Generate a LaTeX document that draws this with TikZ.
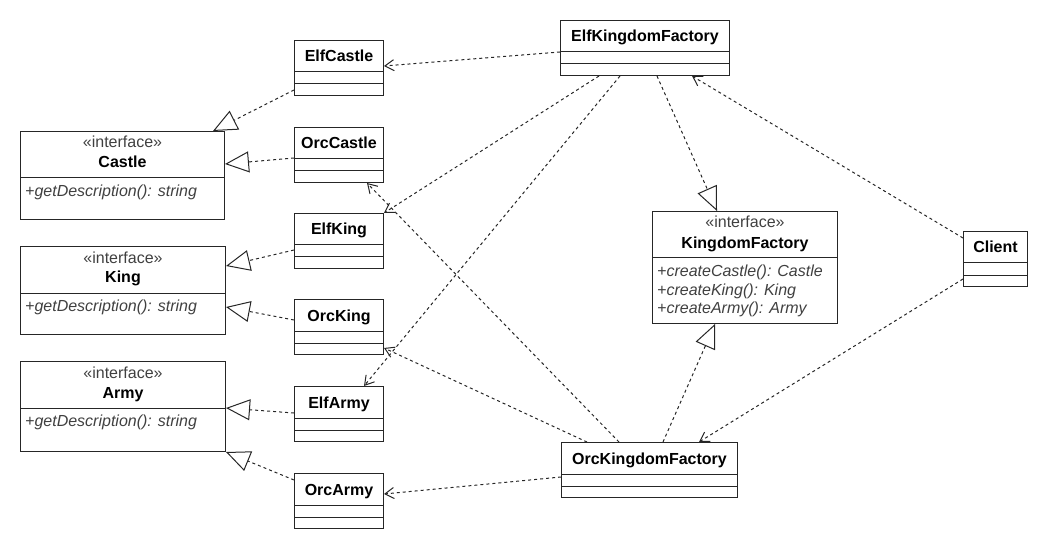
\documentclass[tikz,border=0pt]{standalone}
\usepackage{fontspec}
\setmainfont{Liberation Sans}
\usetikzlibrary{
    positioning,
    arrows.meta,
    calc
}

\tikzset{
    classbox/.style={draw=black!85, line width=1pt, anchor=north west, inner sep=0pt, minimum height=55pt},
    classline/.style={draw=black!85, line width=1pt},
    classtitle/.style={anchor=base, inner sep=0pt, font=\fontsize{16}{19}\selectfont\bfseries},
    stereo/.style={anchor=base, inner sep=0pt, text=black!75, font=\fontsize{16}{19}\selectfont},
    method/.style={anchor=north west, inner sep=0pt, align=left, text=black!75, font=\fontsize{16}{18.5}\selectfont\itshape},
    realize/.style={draw=black!85, line width=1pt, dash pattern=on 3pt off 3pt, -{Triangle[open, length=24pt, width=21pt]}},
    depend/.style={draw=black!85, line width=1pt, dash pattern=on 3pt off 3pt, -{Straight Barb[length=9pt, width=11pt]}}
}

% concrete class: name, top left, width, title
\newcommand{\umlclass}[4]{%
    \node[classbox, minimum width=#3] (#1) at (#2) {};
    \node[classtitle] at ($(#1.north)+(0,22)$) {#4};
    \draw[classline] ($(#1.north west)+(0,32)$) -- ($(#1.north east)+(0,32)$);
    \draw[classline] ($(#1.north west)+(0,44)$) -- ($(#1.north east)+(0,44)$);
}

% interface: name, top left, width, height, title, methods
\newcommand{\umliface}[6]{%
    \node[classbox, minimum width=#3, minimum height=#4] (#1) at (#2) {};
    \node[stereo] at ($(#1.north)+(0,17)$) {«interface»};
    \node[classtitle] at ($(#1.north)+(0,37)$) {#5};
    \draw[classline] ($(#1.north west)+(0,47)$) -- ($(#1.north east)+(0,47)$);
    \node[method] at ($(#1.north west)+(5,54)$) {#6};
}

\begin{document}
\begin{tikzpicture}[x=1pt, y=-1pt]
            \useasboundingbox (0,0) rectangle (1039,548);

            % Interfaces
            \umliface{Castle}{20,131}{204}{88}{Castle}{+getDescription(): string}
            \umliface{King}{20,246}{205}{88}{King}{+getDescription(): string}
            \umliface{Army}{20,361}{205}{90}{Army}{+getDescription(): string}
            \umliface{KingdomFactory}{652,211}{185}{112}{KingdomFactory}{+createCastle(): Castle\\+createKing(): King\\+createArmy(): Army}

            % Products
            \umlclass{ElfCastle}{294,40}{89}{ElfCastle}
            \umlclass{OrcCastle}{294,127}{89}{OrcCastle}
            \umlclass{ElfKing}{294,213}{89}{ElfKing}
            \umlclass{OrcKing}{294,299}{89}{OrcKing}
            \umlclass{ElfArmy}{294,386}{89}{ElfArmy}
            \umlclass{OrcArmy}{294,473}{89}{OrcArmy}

            % Factories and client
            \umlclass{ElfFactory}{560,20}{169}{ElfKingdomFactory}
            \umlclass{OrcFactory}{561,442}{176}{OrcKingdomFactory}
            \umlclass{Client}{963,231}{64}{Client}

            % Realizations
            \draw[realize] ($(ElfCastle.north west)+(0,50)$) -- ($(Castle.north west)+(193,0)$);
            \draw[realize] ($(OrcCastle.north west)+(0,31)$) -- ($(Castle.north east)+(0,33)$);
            \draw[realize] ($(ElfKing.north west)+(0,37)$) -- ($(King.north east)+(0,20)$);
            \draw[realize] ($(OrcKing.north west)+(0,21)$) -- ($(King.north east)+(0,61)$);
            \draw[realize] ($(ElfArmy.north west)+(0,27)$) -- ($(Army.north east)+(0,47)$);
            \draw[realize] ($(OrcArmy.north west)+(0,7)$) -- (Army.south east);
            \draw[realize] ($(ElfFactory.south west)+(97,0)$) -- ($(KingdomFactory.north west)+(65,0)$);
            \draw[realize] ($(OrcFactory.north west)+(102,0)$) -- ($(KingdomFactory.south west)+(63,0)$);

            % Dependencies
            \draw[depend] ($(ElfFactory.north west)+(0,32)$) -- ($(ElfCastle.north east)+(0,26)$);
            \draw[depend] ($(ElfFactory.south west)+(39,0)$) -- (ElfKing.north east);
            \draw[depend] ($(ElfFactory.south west)+(60,0)$) -- ($(ElfArmy.north west)+(70,0)$);
            \draw[depend] ($(OrcFactory.north west)+(58,0)$) -- ($(OrcCastle.south west)+(73,0)$);
            \draw[depend] ($(OrcFactory.north west)+(26,0)$) -- ($(OrcKing.north east)+(0,49)$);
            \draw[depend] ($(OrcFactory.north west)+(0,35)$) -- ($(OrcArmy.north east)+(0,21)$);
            \draw[depend] ($(Client.north west)+(0,7)$) -- ($(ElfFactory.south west)+(132,0)$);
            \draw[depend] ($(Client.north west)+(0,48)$) -- ($(OrcFactory.north west)+(138,0)$);
          \end{tikzpicture}
\end{document}
